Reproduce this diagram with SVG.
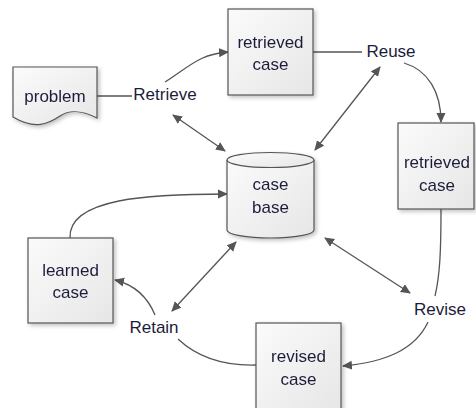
<svg xmlns="http://www.w3.org/2000/svg" width="476" height="408" viewBox="0 0 476 408">
<defs>
<linearGradient id="fill" x1="0" y1="0" x2="1" y2="1">
<stop offset="0" stop-color="#fbfbfb"/>
<stop offset="1" stop-color="#e6e6e6"/>
</linearGradient>
<marker id="ah" viewBox="0 0 10 10" refX="9" refY="5" markerWidth="10" markerHeight="10" markerUnits="userSpaceOnUse" orient="auto-start-reverse">
<path d="M0,0.5 L10,5 L0,9.5 Z" fill="#555"/>
</marker>
<filter id="sh" x="-10%" y="-10%" width="130%" height="130%">
<feGaussianBlur in="SourceAlpha" stdDeviation="2"/>
<feOffset dx="2" dy="2" result="b"/>
<feComponentTransfer><feFuncA type="linear" slope="0.25"/></feComponentTransfer>
<feMerge><feMergeNode/><feMergeNode in="SourceGraphic"/></feMerge>
</filter>
</defs>
<style>
.n{fill:url(#fill);stroke:#555;stroke-width:1.2}
.t{font-family:"Liberation Sans",Arial,sans-serif;font-size:17px;fill:#1c1c3a;text-anchor:middle}
.c{fill:none;stroke:#555;stroke-width:1.3}
.a{marker-end:url(#ah)}
.d{marker-start:url(#ah);marker-end:url(#ah)}
</style>
<rect width="476" height="408" fill="#fff"/>
<g id="connectors">
<path class="c" d="M97,96 L132,96"/>
<path class="c a" d="M165,82 C190,66 200,54 228,52"/>
<path class="c d" d="M173,115 L225,151"/>
<path class="c" d="M313,52 L362,52"/>
<path class="c a" d="M404,63 C428,70 441,92 441,122"/>
<path class="c d" d="M380,67 L315,150"/>
<path class="c" d="M441,209 C441,250 440,275 435,296"/>
<path class="c a" d="M428,322 C415,350 385,362 343,366"/>
<path class="c d" d="M325,238 L410,293"/>
<path class="c" d="M256,365 C220,366 195,355 178,339"/>
<path class="c a" d="M155,315 C148,298 135,285 115,280"/>
<path class="c d" d="M172,311 L236,242"/>
<path class="c a" d="M70,238 C68,198 150,194 227,194"/>
</g>
<g id="problem" filter="url(#sh)">
<path class="n" d="M13,67 H97 V118 C85,112 72,108 60,116 C48,124 35,130 13,117 Z"/>
<text class="t" x="55" y="102">problem</text>
</g>
<g id="retrieved-case-1" filter="url(#sh)">
<rect class="n" x="228" y="9" width="85" height="86"/>
<text class="t" x="270.5" y="48">retrieved</text>
<text class="t" x="270.5" y="70">case</text>
</g>
<g id="retrieved-case-2" filter="url(#sh)">
<rect class="n" x="398" y="123" width="76" height="86"/>
<text class="t" x="437" y="168">retrieved</text>
<text class="t" x="437" y="191">case</text>
</g>
<g id="case-base" filter="url(#sh)">
<path class="n" d="M227,160 V230 A43.5,8 0 0 0 314,230 V160"/>
<ellipse class="n" cx="270.5" cy="160" rx="43.5" ry="7.5"/>
<text class="t" x="270.5" y="190">case</text>
<text class="t" x="270.5" y="213">base</text>
</g>
<g id="learned-case" filter="url(#sh)">
<rect class="n" x="28" y="238" width="85" height="85"/>
<text class="t" x="70.5" y="276">learned</text>
<text class="t" x="70.5" y="298">case</text>
</g>
<g id="revised-case" filter="url(#sh)">
<rect class="n" x="256" y="323" width="85" height="88"/>
<text class="t" x="298.5" y="362">revised</text>
<text class="t" x="298.5" y="385">case</text>
</g>
<g id="labels">
<text class="t" x="165" y="100">Retrieve</text>
<text class="t" x="391" y="57">Reuse</text>
<text class="t" x="154" y="333">Retain</text>
<text class="t" x="440" y="315">Revise</text>
</g>
</svg>
